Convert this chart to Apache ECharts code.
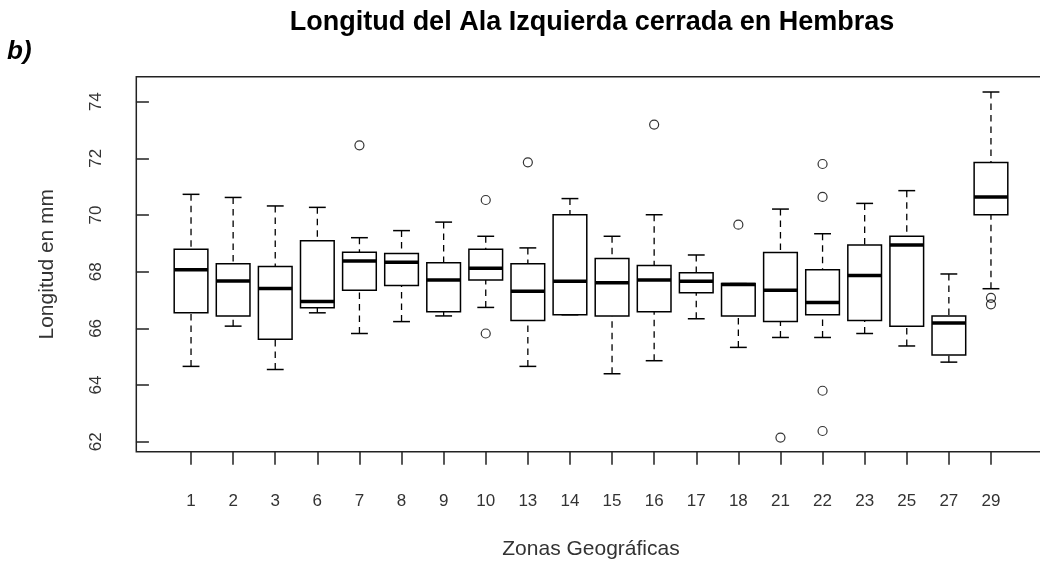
<!DOCTYPE html>
<html>
<head>
<meta charset="utf-8">
<script src="https://cdn.jsdelivr.net/npm/echarts@6/dist/echarts.min.js"></script>
<style>
  html, body { margin: 0; padding: 0; background: #fff; }
  #chart { width: 1040px; height: 565px; }
</style>
</head>
<body>
<div id="chart"></div>
<script>
// Geographic zones (one box per zone)
const zones = ['1', '2', '3', '6', '7', '8', '9', '10', '13', '14', '15', '16', '17', '18', '21', '22', '23', '25', '27', '29'];

// Five-number summaries per zone (mm)
const lowerWhisker  = [64.66, 66.08, 64.55, 66.55, 65.82, 66.24, 66.44, 66.74, 64.66, 66.48, 64.40, 64.86, 66.34, 65.33, 65.68, 65.68, 65.82, 65.38, 64.81, 67.40];
const lowerQuartile = [66.55, 66.44, 65.62, 66.73, 67.35, 67.51, 66.59, 67.71, 66.28, 66.48, 66.44, 66.59, 67.26, 66.44, 66.24, 66.48, 66.28, 66.08, 65.06, 70.01];
const medians       = [68.07, 67.67, 67.41, 66.95, 68.38, 68.33, 67.71, 68.12, 67.31, 67.66, 67.61, 67.71, 67.66, 67.55, 67.35, 66.91, 67.87, 68.94, 66.19, 70.64];
const upperQuartile = [68.79, 68.28, 68.18, 69.09, 68.69, 68.64, 68.32, 68.79, 68.28, 70.01, 68.47, 68.22, 67.96, 67.58, 68.68, 68.07, 68.94, 69.25, 66.44, 71.85];
const upperWhisker  = [70.73, 70.62, 70.32, 70.27, 69.20, 69.45, 69.75, 69.25, 68.84, 70.58, 69.25, 70.01, 68.59, 67.58, 70.21, 69.34, 70.41, 70.86, 67.92, 74.34];

// Outlying observations
const outlierZones  = ['7', '10', '10', '13', '16', '18', '21', '22', '22', '22', '22', '29', '29'];
const outlierValues = [72.46, 70.53, 65.82, 71.86, 73.19, 69.66, 62.15, 71.80, 70.64, 63.80, 62.38, 67.08, 66.85];

// Axis ticks
const yTicks = [62, 64, 66, 68, 70, 72, 74];

const FONT = '"Liberation Sans", Arial, Helvetica, sans-serif';

// Boxes sit at positions 1..n on a numeric axis
const positions = zones.map((z, i) => i + 1);
const boxData = zones.map((z, i) => [i + 1, lowerWhisker[i], lowerQuartile[i], medians[i], upperQuartile[i], upperWhisker[i]]);
const outlierData = outlierZones.map((z, k) => [zones.indexOf(z) + 1, outlierValues[k]]);

// Classic box: dashed whiskers with staples, white box, heavy median bar
function renderBox(params, api) {
  const x = api.value(0);
  const lo = api.coord([x, api.value(1)]);
  const q1 = api.coord([x, api.value(2)]);
  const md = api.coord([x, api.value(3)]);
  const q3 = api.coord([x, api.value(4)]);
  const hi = api.coord([x, api.value(5)]);
  const w = api.size([0.8, 0])[0];
  const cx = lo[0];
  const dashed = { stroke: '#000', lineWidth: 1.3, lineDash: [6.5, 5] };
  const solid = { stroke: '#000', lineWidth: 1.5 };
  return {
    type: 'group',
    children: [
      { type: 'line', shape: { x1: cx, y1: hi[1], x2: cx, y2: q3[1] }, style: dashed },
      { type: 'line', shape: { x1: cx, y1: lo[1], x2: cx, y2: q1[1] }, style: dashed },
      { type: 'line', shape: { x1: cx - w / 4, y1: hi[1], x2: cx + w / 4, y2: hi[1] }, style: solid },
      { type: 'line', shape: { x1: cx - w / 4, y1: lo[1], x2: cx + w / 4, y2: lo[1] }, style: solid },
      { type: 'rect', shape: { x: cx - w / 2, y: q3[1], width: w, height: q1[1] - q3[1] },
        style: { fill: '#fff', stroke: '#000', lineWidth: 1.5 } },
      { type: 'line', shape: { x1: cx - w / 2, y1: md[1], x2: cx + w / 2, y2: md[1] },
        style: { stroke: '#000', lineWidth: 3.5 } }
    ]
  };
}

const chart = echarts.init(document.getElementById('chart'), null, { renderer: 'canvas' });

chart.setOption({
  animation: false,
  backgroundColor: '#fff',
  grid: {
    left: 136.3, top: 76.7, right: -5.7, bottom: 113.3,
    show: true, borderColor: '#222', borderWidth: 1.5, backgroundColor: 'transparent',
    containLabel: false, outerBoundsMode: 'none'
  },
  graphic: [
    { type: 'text', x: 592, y: 23,
      style: { text: 'Longitud del Ala Izquierda cerrada en Hembras', fill: '#000',
        font: 'bold 27px ' + FONT, textAlign: 'center', textVerticalAlign: 'middle' } },
    { type: 'text', x: 7, y: 52,
      style: { text: 'b)', fill: '#000',
        font: 'italic bold 26px ' + FONT, textAlign: 'left', textVerticalAlign: 'middle' } }
  ],
  xAxis: {
    type: 'value', min: -0.3, max: 21.3,
    axisLine: { show: false }, splitLine: { show: false },
    axisTick: { show: true, length: 13, customValues: positions, lineStyle: { color: '#222', width: 1.5 } },
    axisLabel: { customValues: positions, formatter: v => zones[Math.round(v) - 1],
      margin: 41, fontSize: 17, color: '#333', fontFamily: FONT },
    name: 'Zonas Geográficas', nameLocation: 'middle', nameGap: 87,
    nameTextStyle: { fontSize: 21, color: '#333', fontFamily: FONT }
  },
  yAxis: {
    type: 'value', min: 61.65, max: 74.88,
    axisLine: { show: false }, splitLine: { show: false },
    axisTick: { show: true, length: 13, customValues: yTicks, lineStyle: { color: '#222', width: 1.5 } },
    axisLabel: { customValues: yTicks, rotate: 90, margin: 31, fontSize: 17, color: '#333', fontFamily: FONT },
    name: 'Longitud en mm', nameLocation: 'middle', nameGap: 79, nameRotate: 90,
    nameTextStyle: { fontSize: 21, color: '#333', fontFamily: FONT }
  },
  series: [
    {
      type: 'custom', name: 'cajas', renderItem: renderBox,
      encode: { x: 0, y: [1, 2, 3, 4, 5] }, data: boxData, clip: false
    },
    {
      type: 'scatter', name: 'atípicos', data: outlierData,
      symbol: 'circle', symbolSize: 9,
      itemStyle: { color: 'rgba(0,0,0,0)', borderColor: '#000', borderWidth: 1.2 },
      z: 3
    }
  ]
});
</script>
</body>
</html>
